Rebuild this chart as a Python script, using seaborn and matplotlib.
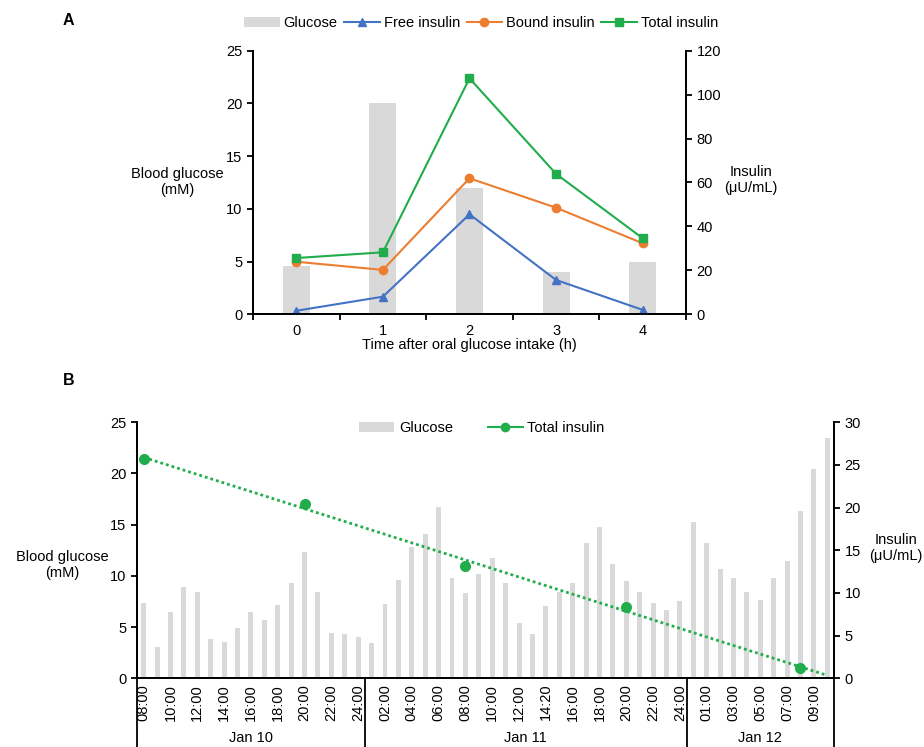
import matplotlib
matplotlib.use("Agg")
import matplotlib.pyplot as plt
import numpy as np
import pandas as pd
import seaborn as sns
from matplotlib.patches import Patch
from matplotlib.lines import Line2D

# ---- panel A data ----
hours_a = [0, 1, 2, 3, 4]
glucose_a = [4.6, 20.0, 12.0, 4.0, 5.0]
free_ins = [1.6, 8.0, 45.5, 15.6, 2.0]
bound_ins = [23.9, 20.2, 61.9, 48.5, 32.3]
total_ins = [25.6, 28.2, 107.4, 63.9, 34.6]

# ---- panel B data ----
days_b = ["Jan 10", "Jan 11", "Jan 12"]
times_jan10 = ["08:00", "09:00", "10:00", "11:00", "12:00", "13:00", "14:00", "15:00",
               "16:00", "17:00", "18:00", "19:00", "20:00", "21:00", "22:00", "23:00", "24:00"]
times_jan11 = ["01:00", "02:00", "03:00", "04:00", "05:00", "06:00", "07:00", "08:00",
               "09:00", "10:00", "11:00", "12:00", "13:00", "14:20", "15:00", "16:00",
               "17:00", "18:00", "19:00", "20:00", "21:00", "22:00", "23:00", "24:00"]
times_jan12 = ["00:00", "01:00", "02:00", "03:00", "04:00", "05:00", "06:00", "07:00",
               "08:00", "09:00", "10:00"]
glucose_jan10 = [7.4, 3.1, 6.5, 8.9, 8.4, 3.8, 3.5, 4.9, 6.5, 5.7, 7.2, 9.3, 12.3, 8.4, 4.4, 4.3, 4.0]
glucose_jan11 = [3.4, 7.3, 9.6, 12.8, 14.1, 16.7, 9.8, 8.3, 10.2, 11.7, 9.3, 5.4, 4.3, 7.1,
                 8.4, 9.3, 13.2, 14.8, 11.2, 9.5, 8.4, 7.4, 6.7, 7.5]
glucose_jan12 = [15.3, 13.2, 10.7, 9.8, 8.4, 7.6, 9.8, 11.5, 16.3, 20.4, 23.5]

ins_day = ["Jan 10", "Jan 10", "Jan 11", "Jan 11", "Jan 12"]
ins_time = ["08:00", "20:00", "08:00", "20:00", "08:00"]
ins_total_b = [25.7, 20.4, 13.2, 8.35, 1.17]

plt.rcParams['font.family'] = ['Liberation Sans', 'DejaVu Sans']
plt.rcParams['font.size'] = 10.5

GRAY = "#D9D9D9"
BLUE = "#4472C4"
ORANGE = "#ED7D31"
GREEN = "#21AD4B"

fig = plt.figure(figsize=(9.24, 7.47), dpi=100)

# ================= Panel A =================
axa = fig.add_axes([0.2738, 0.5793, 0.4686, 0.3529])
sns.barplot(x=hours_a, y=glucose_a, color=GRAY, saturation=1, width=0.31,
            errorbar=None, ax=axa)
axa.set_ylim(0, 25)
axa.set_yticks(range(0, 26, 5))
axa.set_xlim(-0.5, 4.5)
axa.set_xticks(np.arange(-0.5, 5, 1), minor=True)
axa.tick_params(axis='x', which='major', length=0, pad=7)
axa.tick_params(axis='x', which='minor', length=4, width=1.3, direction='out')
axa.tick_params(axis='y', length=4, width=1.3, direction='out')
axa.set_xlabel("Time after oral glucose intake (h)", labelpad=0)
axa.set_ylabel("")

axa2 = axa.twinx()
axa2.plot(hours_a, free_ins, color=BLUE, marker='^', markersize=6, lw=1.5)
axa2.plot(hours_a, bound_ins, color=ORANGE, marker='o', markersize=6, lw=1.5)
axa2.plot(hours_a, total_ins, color=GREEN, marker='s', markersize=6, lw=1.5)
axa2.set_ylim(0, 120)
axa2.set_yticks(range(0, 121, 20))
axa2.tick_params(axis='y', length=4, width=1.3, direction='out')

for ax in (axa, axa2):
    ax.spines['top'].set_visible(False)
    for s in ('left', 'right', 'bottom'):
        ax.spines[s].set_linewidth(1.3)
        ax.spines[s].set_color('black')

fig.text(0.1916, 0.7564, "Blood glucose\n(mM)", ha='center', va='center', linespacing=1.15)
fig.text(0.8128, 0.759, "Insulin\n(\u03bcU/mL)", ha='center', va='center', linespacing=1.15)
fig.text(0.068, 0.972, "A", fontsize=11.5, fontweight='bold', ha='left', va='center')

handles_a = [Patch(facecolor=GRAY, edgecolor='none'),
             Line2D([], [], color=BLUE, marker='^', markersize=6, lw=1.5),
             Line2D([], [], color=ORANGE, marker='o', markersize=6, lw=1.5),
             Line2D([], [], color=GREEN, marker='s', markersize=6, lw=1.5)]
fig.legend(handles_a, ["Glucose", "Free insulin", "Bound insulin", "Total insulin"],
           loc='center', bbox_to_anchor=(0.5206, 0.9695), ncol=4, frameon=False,
           handlelength=2.45, handleheight=0.7, handletextpad=0.27, columnspacing=0.45)

# ================= Panel B =================
all_times = times_jan10 + times_jan11 + times_jan12
all_days = [days_b[0]] * len(times_jan10) + [days_b[1]] * len(times_jan11) + [days_b[2]] * len(times_jan12)
all_glucose = glucose_jan10 + glucose_jan11 + glucose_jan12
df_b = pd.DataFrame({"idx": range(len(all_times)), "day": all_days,
                     "time": all_times, "glucose": all_glucose})
n_b = len(df_b)

axb = fig.add_axes([0.1483, 0.0920, 0.7543, 0.3427])
sns.barplot(data=df_b, x="idx", y="glucose", color=GRAY, saturation=1, width=0.37,
            errorbar=None, ax=axb)
axb.set_ylim(0, 25)
axb.set_yticks(range(0, 26, 5))
axb.set_xlim(-0.5, n_b - 0.5)
axb.set_xticks(range(0, n_b, 2))
axb.set_xticklabels(all_times[::2], rotation=90)
axb.tick_params(axis='x', length=0, pad=4)
axb.tick_params(axis='y', length=4, width=1.3, direction='out')
axb.set_xlabel("")
axb.set_ylabel("")

# day group separators and labels
trans = axb.get_xaxis_transform()
bounds = [-0.5]
for d in days_b:
    sub = df_b[df_b["day"] == d]["idx"]
    bounds.append(sub.max() + 0.5)
    axb.text((sub.min() + sub.max()) / 2, -0.205, d, transform=trans,
             ha='center', va='top', clip_on=False)
for xv in bounds:
    axb.plot([xv, xv], [0, -0.35], transform=trans, color='black', lw=1.3, clip_on=False)

lookup = {(d, t): i for i, d, t in zip(df_b["idx"], df_b["day"], df_b["time"])}
ins_idx = np.array([lookup[(d, t)] for d, t in zip(ins_day, ins_time)])

axb2 = axb.twinx()
coef = np.polyfit(ins_idx, ins_total_b, 1)
xs = np.array([0, n_b - 1])
axb2.plot(xs, np.polyval(coef, xs), color=GREEN, lw=2.0, linestyle=(0, (1, 1.1)))
sns.scatterplot(x=ins_idx, y=ins_total_b, color=GREEN, s=64, linewidth=0, ax=axb2, zorder=3)
axb2.set_ylim(0, 30)
axb2.set_yticks(range(0, 31, 5))
axb2.tick_params(axis='y', length=4, width=1.3, direction='out')

for ax in (axb, axb2):
    ax.spines['top'].set_visible(False)
    for s in ('left', 'right', 'bottom'):
        ax.spines[s].set_linewidth(1.3)
        ax.spines[s].set_color('black')

fig.text(0.0671, 0.2436, "Blood glucose\n(mM)", ha='center', va='center', linespacing=1.15)
fig.text(0.9697, 0.2664, "Insulin\n(\u03bcU/mL)", ha='center', va='center', linespacing=1.15)
fig.text(0.068, 0.491, "B", fontsize=11.5, fontweight='bold', ha='left', va='center')

handles_b = [Patch(facecolor=GRAY, edgecolor='none'),
             Line2D([], [], color=GREEN, marker='o', markersize=6, lw=1.5)]
fig.legend(handles_b, ["Glucose", "Total insulin"], loc='center',
           bbox_to_anchor=(0.5216, 0.427), ncol=2, frameon=False,
           handlelength=2.4, handleheight=0.7, handletextpad=0.3, columnspacing=2.4)

fig.savefig("out.png", dpi=100)
